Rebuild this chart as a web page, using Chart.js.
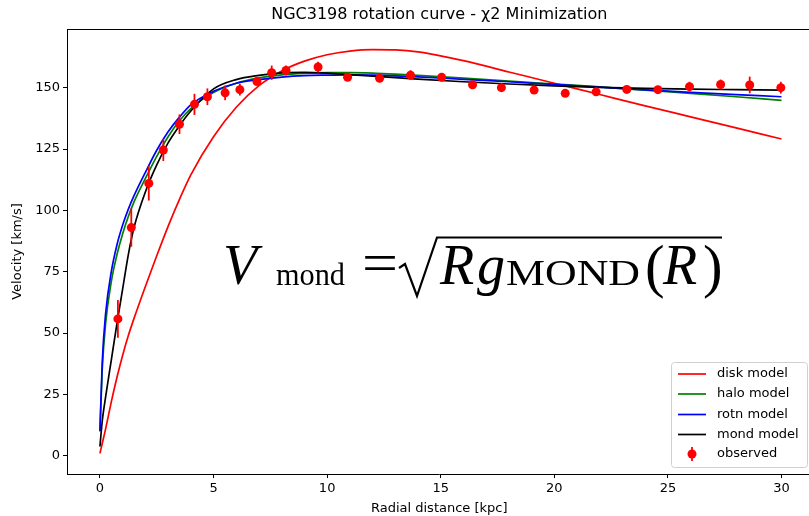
<!DOCTYPE html>
<html><head><meta charset="utf-8">
<script src="https://cdn.jsdelivr.net/npm/chart.js@4.4.0/dist/chart.umd.min.js"></script>
<style>
html,body{margin:0;padding:0;background:#fff;overflow:hidden;width:809px;height:516px}
#wrap{position:relative;width:816px;height:516px}
canvas{display:block}
</style></head><body>
<div id="wrap"><canvas id="c" width="816" height="516"></canvas></div>
<script>
// ---- data ----
const chartTitle = 'NGC3198 rotation curve - χ2 Minimization';
const xLabel = 'Radial distance [kpc]';
const yLabel = 'Velocity [km/s]';
const seriesNames = ['disk model', 'halo model', 'rotn model', 'mond model', 'observed'];
const xTicks = [0, 5, 10, 15, 20, 25, 30];
const yTicks = [0, 25, 50, 75, 100, 125, 150];

const modelR = [0, 0.1, 0.25, 0.5, 0.75, 1, 1.25, 1.5, 2, 2.5, 3, 3.5, 4, 5, 6, 7, 8, 9, 10, 11, 12, 13, 14, 16, 18, 20, 22, 24, 26, 28, 30];
const diskV  = [1, 5, 11, 22, 32, 41, 49, 56, 69, 81.5, 93.5, 104.5, 114.5, 130, 142, 150.8, 156.8, 160.8, 163.4, 164.9, 165.5, 165.4, 164.6, 161, 156.4, 151.8, 147.2, 142.6, 138.1, 133.6, 129.1];
const haloV  = [10, 35, 54, 71, 82, 90.5, 97.5, 103.5, 113, 122, 130, 136.5, 141.5, 148, 151.8, 154, 155.2, 155.8, 156.1, 156.1, 155.9, 155.5, 155, 153.9, 152.7, 151.5, 150.3, 149, 147.7, 146.3, 144.8];
const rotnV  = [10, 38, 58, 75, 86, 94, 100.5, 106, 115.5, 124.5, 132, 138, 143, 148.5, 151.8, 153.3, 154.3, 154.9, 155.1, 155.2, 155.1, 154.8, 154.4, 153.4, 152.4, 151.3, 150.2, 149.1, 148.1, 147.2, 146.3];
const mondV  = [3.8, 14, 24, 39, 54, 68, 82, 93, 107.5, 118.5, 127.5, 134.5, 140.5, 149.5, 153.3, 155, 156, 156.2, 155.9, 155.3, 154.7, 154.1, 153.5, 152.4, 151.5, 150.7, 150.1, 149.7, 149.4, 149.2, 149.0];

const obsR   = [0.79, 1.38, 2.15, 2.79, 3.5, 4.16, 4.73, 5.51, 6.16, 6.91, 7.56, 8.19, 9.6, 10.9, 12.31, 13.67, 15.04, 16.4, 17.67, 19.11, 20.48, 21.84, 23.19, 24.56, 25.95, 27.32, 28.6, 29.97];
const obsV   = [55.8, 93.0, 111.0, 124.6, 135.1, 143.2, 146.3, 147.9, 149.2, 152.5, 156.1, 157.0, 158.4, 154.2, 153.8, 155.1, 154.2, 151.2, 150.0, 149.0, 147.7, 148.3, 149.3, 149.2, 150.4, 151.3, 151.1, 150.0];
const obsErr = [7.7, 7.8, 7.0, 4.5, 4.0, 4.3, 3.4, 3.0, 2.4, 1.2, 2.9, 2.0, 2.2, 1.0, 1.0, 2.0, 1.0, 1.0, 1.0, 1.0, 1.0, 1.0, 1.0, 1.0, 2.0, 2.0, 3.4, 2.4];

// ---- styles ----
const FONT = 'DejaVu Sans';
const colors = ['#ff0000', '#008000', '#0000ff', '#000000', '#ff0000'];

const toXY = (xs, ys) => xs.map((x, i) => ({x, y: ys[i]}));
const modelSeries = [diskV, haloV, rotnV, mondV];

const datasets = modelSeries.map((vals, i) => ({
  label: seriesNames[i],
  data: toXY(modelR, vals),
  borderColor: colors[i],
  borderWidth: 1.7,
  pointRadius: 0,
  fill: false,
  cubicInterpolationMode: 'monotone',
  order: 5 - i
}));
datasets.push({
  label: seriesNames[4],
  data: toXY(obsR, obsV),
  showLine: false,
  pointRadius: 4.5,
  pointHoverRadius: 4.5,
  pointBackgroundColor: colors[4],
  pointBorderWidth: 0,
  borderColor: colors[4],
  order: 0
});

const errorBars = {
  id: 'errorBars',
  beforeDatasetDraw(chart, args) {
    if (args.index !== 4) return;
    const {ctx, scales: {x, y}} = chart;
    ctx.save();
    ctx.strokeStyle = colors[4];
    ctx.lineWidth = 1.8;
    obsR.forEach((r, i) => {
      const px = x.getPixelForValue(r);
      ctx.beginPath();
      ctx.moveTo(px, y.getPixelForValue(obsV[i] - obsErr[i]));
      ctx.lineTo(px, y.getPixelForValue(obsV[i] + obsErr[i]));
      ctx.stroke();
    });
    ctx.restore();
  }
};

const frame = {
  id: 'frame',
  afterDatasetsDraw(chart) {
    const {ctx, chartArea: a} = chart;
    ctx.save();
    ctx.strokeStyle = '#000';
    ctx.lineWidth = 1;
    ctx.beginPath();
    ctx.moveTo(a.left, a.top + 0.5); ctx.lineTo(a.right, a.top + 0.5);
    ctx.stroke();
    ctx.fillStyle = '#000';
    ctx.font = '16px "' + FONT + '"';
    ctx.textAlign = 'center';
    ctx.textBaseline = 'middle';
    ctx.fillText(chartTitle, (a.left + a.right) / 2, 15);
    ctx.restore();
  }
};

function roundRect(ctx, x, y, w, h, r) {
  ctx.beginPath();
  ctx.moveTo(x + r, y);
  ctx.lineTo(x + w - r, y); ctx.quadraticCurveTo(x + w, y, x + w, y + r);
  ctx.lineTo(x + w, y + h - r); ctx.quadraticCurveTo(x + w, y + h, x + w - r, y + h);
  ctx.lineTo(x + r, y + h); ctx.quadraticCurveTo(x, y + h, x, y + h - r);
  ctx.lineTo(x, y + r); ctx.quadraticCurveTo(x, y, x + r, y);
  ctx.closePath();
}

const legendBox = {
  id: 'legendBox',
  afterDraw(chart) {
    const ctx = chart.ctx;
    ctx.save();
    roundRect(ctx, 671.5, 362.5, 136, 105, 3);
    ctx.fillStyle = 'rgba(255,255,255,0.8)';
    ctx.fill();
    ctx.strokeStyle = '#d0d0d0';
    ctx.lineWidth = 1;
    ctx.stroke();
    ctx.font = '13px "' + FONT + '"';
    ctx.textBaseline = 'middle';
    const rows = [374, 394, 414.5, 434.5, 454];
    for (let i = 0; i < 5; i++) {
      const yy = rows[i];
      ctx.strokeStyle = colors[i];
      ctx.fillStyle = colors[i];
      if (i < 4) {
        ctx.lineWidth = 1.7;
        ctx.beginPath(); ctx.moveTo(678, yy); ctx.lineTo(706, yy); ctx.stroke();
      } else {
        ctx.lineWidth = 1.8;
        ctx.beginPath(); ctx.moveTo(692, yy - 7); ctx.lineTo(692, yy + 7); ctx.stroke();
        ctx.beginPath(); ctx.arc(692, yy, 4.5, 0, Math.PI * 2); ctx.fill();
      }
      ctx.fillStyle = '#000';
      ctx.fillText(seriesNames[i], 717, yy);
    }
    ctx.restore();
  }
};

function textFit(ctx, txt, font, x0, x1, base) {
  ctx.font = font;
  const w = ctx.measureText(txt).width;
  ctx.save();
  ctx.translate(x0, base);
  ctx.scale((x1 - x0) / w, 1);
  ctx.fillText(txt, 0, 0);
  ctx.restore();
}

const formula = {
  id: 'formula',
  afterDraw(chart) {
    const ctx = chart.ctx;
    ctx.save();
    ctx.fillStyle = '#000';
    ctx.strokeStyle = '#000';
    ctx.textBaseline = 'alphabetic';
    ctx.textAlign = 'left';
    const S = 56, B = 284;
    const it = s => 'italic ' + s + 'px "Liberation Serif"';
    const rm = s => s + 'px "Liberation Serif"';
    ctx.font = it(S); ctx.fillText('V', 223, B);
    textFit(ctx, 'mond', rm(31), 276, 345, B + 1);
    textFit(ctx, '=', rm(S), 362, 398, B - 2);
    ctx.lineWidth = 2.2; ctx.lineJoin = 'miter';
    ctx.beginPath();
    ctx.moveTo(399, 268); ctx.lineTo(405, 264); ctx.lineTo(417, 296); ctx.lineTo(437, 237.5); ctx.lineTo(722, 237.5);
    ctx.stroke();
    ctx.font = it(S); ctx.fillText('R', 440, B); ctx.fillText('g', 477, B);
    textFit(ctx, 'MOND', rm(36), 506, 640, B + 1);
    ctx.font = rm(S * 1.05); ctx.fillText('(', 645, B + 2);
    ctx.font = it(S); ctx.fillText('R', 663, B);
    ctx.font = rm(S * 1.05); ctx.fillText(')', 703, B + 2);
    ctx.restore();
  }
};

const axisCommon = (ticks, label) => ({
  type: 'linear',
  afterBuildTicks: s => { s.ticks = ticks.map(v => ({value: v})); },
  grid: {drawOnChartArea: false, drawTicks: true, tickLength: 4, color: '#000', lineWidth: 1},
  border: {display: true, color: '#000', width: 1},
  ticks: {color: '#000', font: {family: FONT, size: 13}, padding: 3, maxRotation: 0, autoSkip: false},
  title: {display: true, text: label, color: '#000', font: {family: FONT, size: 13}}
});

const xAxis = axisCommon(xTicks, xLabel);
xAxis.min = -1.45; xAxis.max = 31.32;
xAxis.afterFit = s => { s.height = 42; };
xAxis.title.padding = {top: 0, bottom: 0};

const yAxis = axisCommon(yTicks, yLabel);
yAxis.min = -7.4; yAxis.max = 173.9;
yAxis.afterFit = s => { s.width = 67; };
yAxis.title.padding = {top: 10, bottom: 0};

new Chart(document.getElementById('c'), {
  type: 'line',
  data: {datasets},
  options: {
    responsive: false,
    animation: false,
    devicePixelRatio: 1,
    layout: {padding: {left: 0, right: 0, top: 29, bottom: 0}},
    scales: {x: xAxis, y: yAxis},
    plugins: {
      legend: {display: false},
      tooltip: {enabled: false},
      title: {display: false}
    },
    events: []
  },
  plugins: [errorBars, frame, legendBox, formula]
});
</script>
</body></html>
